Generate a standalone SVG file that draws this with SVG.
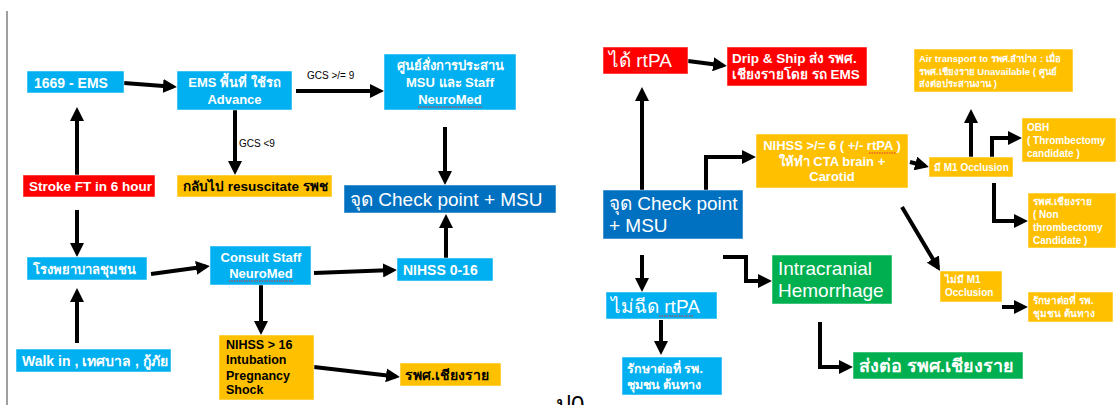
<svg xmlns="http://www.w3.org/2000/svg" width="1116" height="405" viewBox="0 0 1116 405">
<style>
text{font-family:"Liberation Sans","Noto Sans",Arial,sans-serif;fill:#fff}
.b{font-weight:bold}
.k{fill:#000}
.cy{fill:#00B0F0}
.rd{fill:#FF0000}
.or{fill:#FFC000}
.db{fill:#0070C0}
.gr{fill:#00B050}
.box{stroke:#ffffff;stroke-opacity:0.5;stroke-width:1}
.e{stroke:#000;stroke-width:4;fill:none;marker-end:url(#ah)}
.lbl{fill:#000;font-size:10px}
.sq{stroke:#e03030;stroke-width:1;stroke-dasharray:1.5 1;fill:none}
</style>
<defs>
<marker id="ah" markerUnits="userSpaceOnUse" markerWidth="14" markerHeight="14" viewBox="0 0 14 14" refX="10" refY="7" orient="auto">
<path d="M0,0 L14,7 L0,14 z" fill="#000"/>
</marker>
</defs>
<rect width="1116" height="405" fill="#fff"/>
<line x1="7" y1="11" x2="7" y2="405" stroke="#808080" stroke-width="1.5"/>

<g id="connectors">
<path class="e" d="M124,83 L173,86.7"/>
<path class="e" d="M296,91 L380,91"/>
<path class="e" d="M235,110 L235,171"/>
<path class="e" d="M445,127 L445,181"/>
<path class="e" d="M77,175 L77,111"/>
<path class="e" d="M77,210 L77,253"/>
<path class="e" d="M77,343 L77,292"/>
<path class="e" d="M151,274 L206,266.5"/>
<path class="e" d="M314,273 L393,270.1"/>
<path class="e" d="M446,258 L446,218"/>
<path class="e" d="M261,285 L261,331"/>
<path class="e" d="M314,367 L396,376.5"/>
<path class="e" d="M642,190 L642,91"/>
<path class="e" d="M688,61 L723,65.5"/>
<path class="e" d="M706,190 V157 H752"/>
<path class="e" d="M642,255 L642,288"/>
<path class="e" d="M661,320 L661,351"/>
<path class="e" d="M723,257 H746 V281 H768"/>
<path class="e" d="M820,322 V367 H849"/>
<path class="e" d="M910,162 L925.1,166"/>
<path class="e" d="M902,207 L938,267.6"/>
<path class="e" d="M971,157 L971,113"/>
<path class="e" d="M992,157 V138 H1018"/>
<path class="e" d="M994,183 V221 H1024"/>
<path class="e" d="M1002,307 L1024,307"/>
<text class="lbl" x="307" y="79">GCS &gt;/= 9</text>
<text class="lbl" x="239" y="147">GCS &lt;9</text>
</g>

<g id="n1669">
<rect class="box cy" x="27" y="71" width="97" height="22"/>
<text class="b" x="34" y="88" font-size="14">1669 - EMS</text>
</g>
<g id="nEMS">
<rect class="box cy" x="177" y="71" width="115" height="39"/>
<text class="b" x="234.5" y="87" font-size="13" text-anchor="middle">EMS พื้นที่ ใช้รถ</text>
<text class="b" x="234.5" y="104" font-size="13" text-anchor="middle">Advance</text>
</g>
<g id="nCenter">
<rect class="box cy" x="384" y="54" width="132" height="56"/>
<text class="b" x="450" y="70" font-size="13" text-anchor="middle">ศูนย์สั่งการประสาน</text>
<text class="b" x="450" y="87" font-size="13" text-anchor="middle">MSU และ Staff</text>
<text class="b" x="450" y="104" font-size="13" text-anchor="middle">NeuroMed</text>
<path class="sq" d="M418,107 H483"/>
</g>
<g id="nStroke">
<rect class="box rd" x="23" y="175" width="132" height="22"/>
<text class="b" x="29" y="191" font-size="13.5">Stroke FT in 6 hour</text>
</g>
<g id="nResus">
<rect class="box or" x="177" y="175" width="155" height="22"/>
<text class="b k" x="183" y="191" font-size="13.5">กลับไป resuscitate รพช</text>
</g>
<g id="nCheck1">
<rect class="box db" x="344" y="185" width="212" height="28"/>
<text x="350" y="206" font-size="19">จุด Check point + MSU</text>
</g>
<g id="nCommunity">
<rect class="box cy" x="27" y="257" width="120" height="23"/>
<text class="b" x="33" y="274" font-size="13">โรงพยาบาลชุมชน</text>
</g>
<g id="nWalkin">
<rect class="box cy" x="16" y="349" width="155" height="23"/>
<text class="b" x="22" y="366" font-size="14">Walk in , เทศบาล , กู้ภัย</text>
</g>
<g id="nConsult">
<rect class="box cy" x="210" y="246" width="101" height="39"/>
<text class="b" x="261" y="262" font-size="13" text-anchor="middle">Consult Staff</text>
<text class="b" x="261" y="278" font-size="13" text-anchor="middle">NeuroMed</text>
<path class="sq" d="M229,281 H293"/>
</g>
<g id="nNIHSS016">
<rect class="box cy" x="397" y="258" width="96" height="23"/>
<text class="b" x="403" y="275" font-size="14">NIHSS 0-16</text>
</g>
<g id="nNIHSS16">
<rect class="box or" x="219" y="335" width="95" height="65"/>
<text class="b k" x="226" y="349" font-size="12.5">NIHSS &gt; 16</text>
<text class="b k" x="226" y="364" font-size="12.5">Intubation</text>
<text class="b k" x="226" y="380" font-size="12.5">Pregnancy</text>
<text class="b k" x="226" y="394" font-size="12.5">Shock</text>
</g>
<g id="nCR1">
<rect class="box or" x="400" y="363" width="101" height="23"/>
<text class="b k" x="405" y="380" font-size="14">รพศ.เชียงราย</text>
</g>
<text x="556" y="413" font-size="24" class="k" font-family="Liberation Sans, Noto Sans, sans-serif">ป0</text>

<g id="nRtPA">
<rect class="box rd" x="603" y="47" width="85" height="27"/>
<text x="609" y="67" font-size="19">ได้ rtPA</text>
<path class="sq" d="M633,71 H668"/>
</g>
<g id="nDrip">
<rect class="box rd" x="727" y="47" width="140" height="39"/>
<text class="b" x="732" y="63" font-size="13.5">Drip &amp; Ship ส่ง รพศ.</text>
<text class="b" x="732" y="79" font-size="13.5">เชียงรายโดย รถ EMS</text>
</g>
<g id="nNIHSS6">
<rect class="box or" x="756" y="134" width="152" height="54"/>
<text class="b" x="832" y="150" font-size="13" text-anchor="middle">NIHSS &gt;/= 6 ( +/- rtPA )</text>
<text class="b" x="832" y="166" font-size="13" text-anchor="middle">ให้ทำ CTA brain +</text>
<text class="b" x="832" y="181" font-size="13" text-anchor="middle">Carotid</text>
<path class="sq" d="M869,153 H896"/>
</g>
<g id="nCheck2">
<rect class="box db" x="603" y="190" width="140" height="49"/>
<text x="609" y="210" font-size="19">จุด Check point</text>
<text x="609" y="232" font-size="19">+ MSU</text>
</g>
<g id="nNoRtPA">
<rect class="box cy" x="606" y="292" width="111" height="27"/>
<text x="611" y="313" font-size="19">ไม่ฉีด rtPA</text>
<path class="sq" d="M659,316 H694"/>
</g>
<g id="nTreat1">
<rect class="box cy" x="622" y="357" width="100" height="38"/>
<text class="b" x="627" y="373" font-size="12.5">รักษาต่อที่ รพ.</text>
<text class="b" x="627" y="389" font-size="12.5">ชุมชน ต้นทาง</text>
</g>
<g id="nICH">
<rect class="box gr" x="772" y="255" width="120" height="49"/>
<text x="778" y="275" font-size="19">Intracranial</text>
<text x="778" y="297" font-size="19">Hemorrhage</text>
</g>
<g id="nRefer">
<rect class="box gr" x="853" y="352" width="170" height="27"/>
<text class="b" x="859" y="372" font-size="18">ส่งต่อ รพศ.เชียงราย</text>
</g>
<g id="nAir">
<rect class="box or" x="914" y="49" width="159" height="43"/>
<text class="b" x="919" y="62" font-size="9.5">Air transport to รพศ.ลำปาง : เมื่อ</text>
<text class="b" x="919" y="75" font-size="9.5">รพศ.เชียงราย Unavailable ( ศูนย์</text>
<text class="b" x="919" y="87" font-size="9.5">ส่งต่อประสานงาน )</text>
</g>
<g id="nM1">
<rect class="box or" x="929" y="157" width="84" height="20"/>
<text class="b" x="934" y="171" font-size="10">มี M1 Occlusion</text>
</g>
<g id="nOBH">
<rect class="box or" x="1022" y="118" width="94" height="44"/>
<text class="b" x="1027" y="131" font-size="10">OBH</text>
<text class="b" x="1027" y="144" font-size="10">( Thrombectomy</text>
<text class="b" x="1027" y="157" font-size="10">candidate )</text>
</g>
<g id="nCR2">
<rect class="box or" x="1028" y="193" width="88" height="55"/>
<text class="b" x="1033" y="205" font-size="10">รพศ.เชียงราย</text>
<text class="b" x="1033" y="218" font-size="10">( Non</text>
<text class="b" x="1033" y="231" font-size="10">thrombectomy</text>
<text class="b" x="1033" y="244" font-size="10">Candidate )</text>
</g>
<g id="nNoM1">
<rect class="box or" x="940" y="271" width="62" height="31"/>
<text class="b" x="945" y="283" font-size="10">ไม่มี M1</text>
<text class="b" x="945" y="296" font-size="10">Occlusion</text>
</g>
<g id="nTreat2">
<rect class="box or" x="1028" y="292" width="85" height="30"/>
<text class="b" x="1033" y="304" font-size="10">รักษาต่อที่ รพ.</text>
<text class="b" x="1033" y="317" font-size="10">ชุมชน ต้นทาง</text>
</g>
</svg>
